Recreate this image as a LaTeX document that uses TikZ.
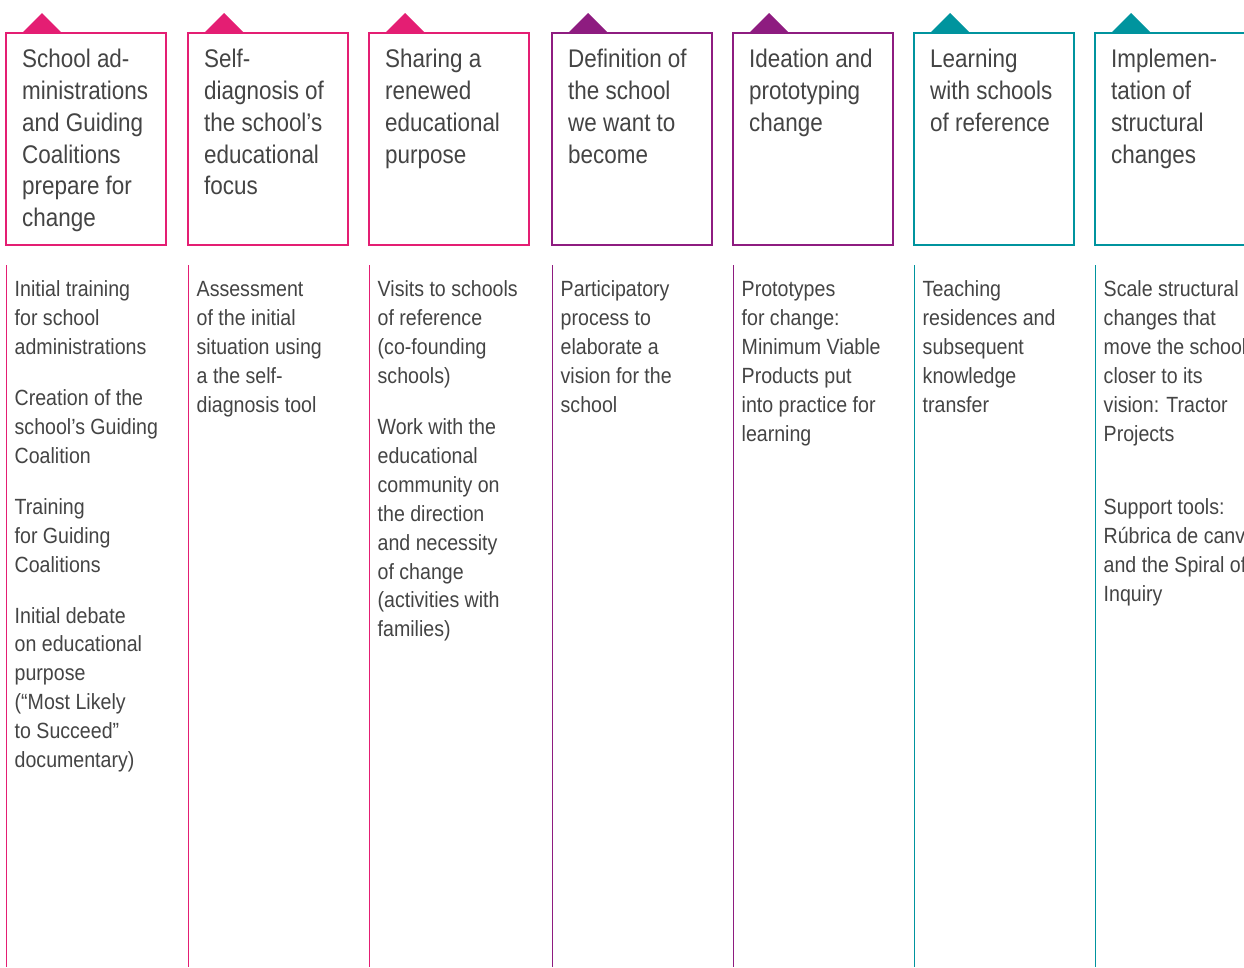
\documentclass[tikz,border=0pt]{standalone}
\usepackage{fontspec}
\newfontfamily\titlef[FakeStretch=0.88]{Liberation Sans}
\newfontfamily\bodyf[FakeStretch=0.89]{Liberation Sans}
\definecolor{pinkc}{RGB}{228,30,115}
\definecolor{purpc}{RGB}{142,28,128}
\definecolor{tealc}{RGB}{0,148,158}
\definecolor{txt}{RGB}{68,68,68}
\tikzset{
  stagebox/.style={draw=#1, line width=1.1pt, fill=white, minimum width=160pt, minimum height=212pt, inner sep=0pt, outer sep=0pt, anchor=north west},
  titletext/.style={anchor=north west, inner sep=0pt, align=left, text=txt, font={\titlef\fontsize{25.5}{31.8}\selectfont}},
  bodytext/.style={anchor=north west, inner sep=0pt, align=left, text=txt, font={\bodyf\fontsize{22}{28.9}\selectfont}},
  stageline/.style={draw=#1, line width=1.1pt},
  marker/.style={fill=#1}
}
\newcommand{\TS}{\rule{0pt}{24pt}}
\newcommand{\BS}{\rule{0pt}{20pt}}
\begin{document}
\begin{tikzpicture}[x=1pt,y=-1pt]
\useasboundingbox (0,0) rectangle (1244,967);
\clip (0,0) rectangle (1244,967);
\fill[white] (0,0) rectangle (1244,967);
% columns: left edges
\foreach \i/\x/\c in {1/6/pinkc,2/188/pinkc,3/369/pinkc,4/552/purpc,5/733/purpc,6/914/tealc,7/1095/tealc}{
  \node[stagebox=\c] (b\i) at (\x,33) {};
  \fill[marker=\c] ([xshift=16pt]b\i.north west) -- ([xshift=36pt,yshift=20pt]b\i.north west) -- ([xshift=56pt]b\i.north west) -- cycle;
  \coordinate (lt\i) at (\x+0.5,265);
  \coordinate (lb\i) at (\x+0.5,967);
  \draw[stageline=\c] (lt\i) -- (lb\i);
}
% titles
\node[titletext] (t1) at ([xshift=16pt,yshift=-10.5pt]b1.north west) {\TS School ad-\\ministrations\\and Guiding\\Coalitions\\prepare for\\change};
\node[titletext] (t2) at ([xshift=16pt,yshift=-10.5pt]b2.north west) {\TS Self-\\diagnosis of\\the school’s\\educational\\focus};
\node[titletext] (t3) at ([xshift=16pt,yshift=-10.5pt]b3.north west) {\TS Sharing a\\renewed\\educational\\purpose};
\node[titletext] (t4) at ([xshift=16pt,yshift=-10.5pt]b4.north west) {\TS Definition of\\the school\\we want to\\become};
\node[titletext] (t5) at ([xshift=16pt,yshift=-10.5pt]b5.north west) {\TS Ideation and\\prototyping\\change};
\node[titletext] (t6) at ([xshift=16pt,yshift=-10.5pt]b6.north west) {\TS Learning\\with schools\\of reference};
\node[titletext] (t7) at ([xshift=16pt,yshift=-10.5pt]b7.north west) {\TS Implemen-\\tation of\\structural\\changes};
% body texts
\node[bodytext] (d1) at ([xshift=8pt,yshift=-11.7pt]lt1) {\BS Initial training\\for school\\administrations\\[22pt]Creation of the\\school’s Guiding\\Coalition\\[22pt]Training\\for Guiding\\Coalitions\\[22pt]Initial debate\\on educational\\purpose\\(“Most Likely\\to Succeed”\\documentary)};
\node[bodytext] (d2) at ([xshift=8pt,yshift=-11.7pt]lt2) {\BS Assessment\\of the initial\\situation using\\a the self-\\diagnosis tool};
\node[bodytext] (d3) at ([xshift=8pt,yshift=-11.7pt]lt3) {\BS Visits to schools\\of reference\\(co-founding\\schools)\\[22pt]Work with the\\educational\\community on\\the direction\\and necessity\\of change\\(activities with\\families)};
\node[bodytext] (d4) at ([xshift=8pt,yshift=-11.7pt]lt4) {\BS Participatory\\process to\\elaborate a\\vision for the\\school};
\node[bodytext] (d5) at ([xshift=8pt,yshift=-11.7pt]lt5) {\BS Prototypes\\for change:\\Minimum Viable\\Products put\\into practice for\\learning};
\node[bodytext] (d6) at ([xshift=8pt,yshift=-11.7pt]lt6) {\BS Teaching\\residences and\\subsequent\\knowledge\\transfer};
\node[bodytext] (d7) at ([xshift=8pt,yshift=-11.7pt]lt7) {\BS Scale structural\\changes that\\move the school\\closer to its\\vision: Tractor\\Projects\\[44pt]Support tools:\\Rúbrica de canvas\\and the Spiral of\\Inquiry};
\end{tikzpicture}
\end{document}
